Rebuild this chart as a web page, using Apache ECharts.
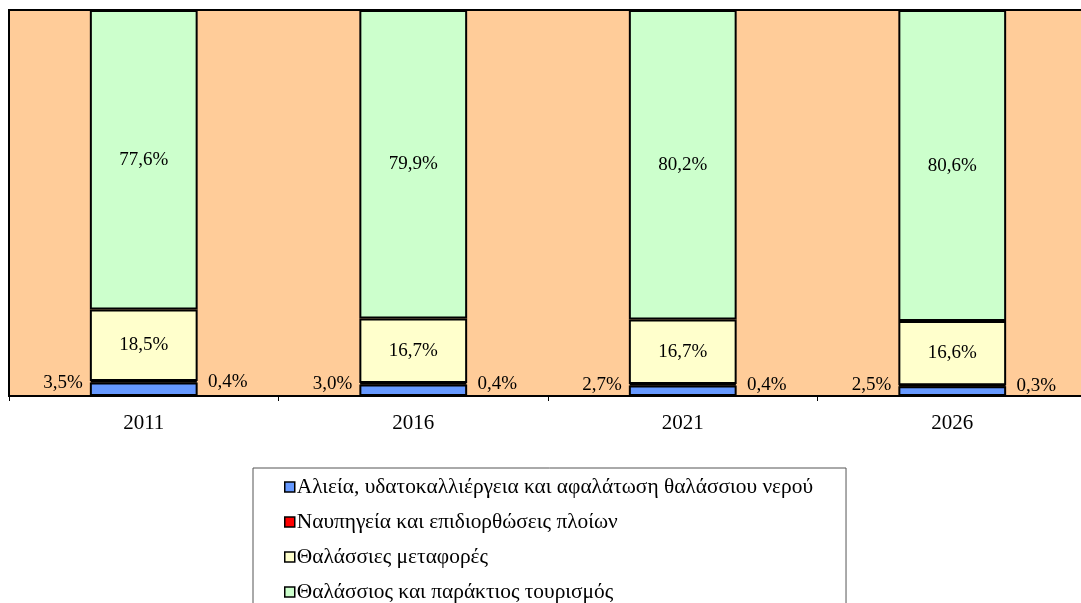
<!DOCTYPE html>
<html>
<head>
<meta charset="utf-8">
<script src="https://cdn.jsdelivr.net/npm/echarts@6/dist/echarts.min.js"></script>
<style>
  html, body { margin: 0; padding: 0; background: #ffffff; overflow: hidden; }
  #chart { width: 1081px; height: 603px; }
</style>
</head>
<body>
<div id="chart"></div>
<script>
// Years shown on the category axis
const years = ['2011', '2016', '2021', '2026'];

// Share of each maritime activity (%)
const fishing = [3.5, 3.0, 2.7, 2.5];
const shipbuilding = [0.4, 0.4, 0.4, 0.3];
const transport = [18.5, 16.7, 16.7, 16.6];
const tourism = [77.6, 79.9, 80.2, 80.6];

const seriesNames = [
  'Αλιεία, υδατοκαλλιέργεια και αφαλάτωση θαλάσσιου νερού',
  'Ναυπηγεία και επιδιορθώσεις πλοίων',
  'Θαλάσσιες μεταφορές',
  'Θαλάσσιος και παράκτιος τουρισμός'
];

const FONT = 'Liberation Serif';
const fmt = p => p.value.toFixed(1).replace('.', ',') + '%';

function bar(name, data, color, label) {
  return {
    name: name,
    type: 'bar',
    stack: 'total',
    barWidth: '40%',
    data: data,
    itemStyle: { color: color, borderColor: '#000000', borderWidth: 2 },
    label: Object.assign({
      show: true,
      formatter: fmt,
      color: '#000000',
      fontFamily: FONT,
      fontSize: 19
    }, label),
    emphasis: { disabled: true }
  };
}

const chart = echarts.init(document.getElementById('chart'), null, { renderer: 'canvas' });
chart.setOption({
  animation: false,
  backgroundColor: '#ffffff',
  grid: {
    left: 9,
    top: 10,
    width: 1078,
    height: 386,
    outerBoundsMode: 'none',
    containLabel: false,
    show: true,
    backgroundColor: '#FFCC99',
    borderColor: '#000000',
    borderWidth: 2
  },
  xAxis: {
    type: 'category',
    data: years,
    boundaryGap: true,
    axisLine: { lineStyle: { color: '#000000', width: 2 } },
    axisTick: { show: true, length: 5, lineStyle: { color: '#000000', width: 1 } },
    axisLabel: { color: '#000000', fontFamily: FONT, fontSize: 21, margin: 17 }
  },
  yAxis: {
    type: 'value',
    min: 0,
    max: 100,
    show: false,
    splitLine: { show: false }
  },
  legend: {
    orient: 'vertical',
    left: 253,
    top: 468,
    height: 170,
    padding: [8, 33, 10, 31],
    itemGap: 13,
    itemWidth: 10,
    itemHeight: 10,
    icon: 'rect',
    borderColor: '#555555',
    borderWidth: 1,
    backgroundColor: '#ffffff',
    itemStyle: { borderColor: '#000000', borderWidth: 1.5 },
    textStyle: { color: '#000000', fontFamily: FONT, fontSize: 21.4, lineHeight: 22, padding: [0, 0, 0, -3] },
    data: seriesNames
  },
  series: [
    bar(seriesNames[0], fishing, '#6699FF', { position: 'left', distance: 7, offset: [0, -6] }),
    bar(seriesNames[1], shipbuilding, '#FF0000', { position: 'right', distance: 10 }),
    bar(seriesNames[2], transport, '#FFFFCC', { position: 'inside' }),
    bar(seriesNames[3], tourism, '#CCFFCC', { position: 'inside' })
  ]
});
</script>
</body>
</html>
